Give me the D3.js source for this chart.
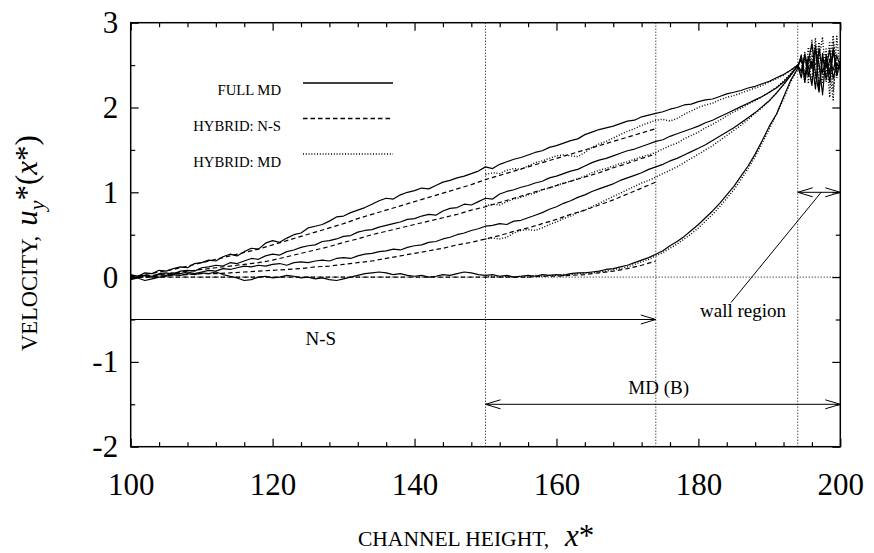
<!DOCTYPE html>
<html>
<head>
<meta charset="utf-8">
<script src="https://cdn.jsdelivr.net/npm/d3@7"></script>
<style>
  body { margin: 0; background: #fff; }
  svg { display: block; }
  text { font-family: "Liberation Serif", "Times New Roman", serif; fill: #000; }
</style>
</head>
<body>
<svg id="chart" width="874" height="553"></svg>
<script>
// ---- axis ticks -------------------------------------------------------
const xTicks = [100, 120, 140, 160, 180, 200];
const yTicks = [-2, -1, 0, 1, 2, 3];

// ---- velocity profiles --------------------------------------------------
// Full MD runs, sampled at x* = 100, 101, ..., 194
const fullMdA = [
  0.02,0.01,0.05,0.04,0.08,0.07,0.10,0.12,0.11,0.16,
  0.17,0.20,0.19,0.24,0.27,0.25,0.30,0.34,0.33,0.40,
  0.43,0.41,0.46,0.50,0.52,0.58,0.60,0.62,0.66,0.71,
  0.72,0.76,0.79,0.82,0.86,0.90,0.93,0.92,0.97,1.00,
  1.02,1.05,1.04,1.08,1.12,1.14,1.17,1.19,1.22,1.25,
  1.30,1.28,1.33,1.36,1.39,1.41,1.44,1.47,1.49,1.53,
  1.55,1.58,1.61,1.63,1.68,1.71,1.74,1.76,1.78,1.81,
  1.84,1.85,1.89,1.91,1.93,1.95,1.98,2.00,2.03,2.04,
  2.07,2.09,2.10,2.13,2.16,2.18,2.20,2.23,2.25,2.28,
  2.31,2.35,2.39,2.44,2.50
];
const fullMdB = [
  -0.02,0.00,0.02,0.01,0.04,0.05,0.03,0.07,0.08,0.07,
  0.11,0.12,0.14,0.13,0.17,0.16,0.19,0.22,0.21,0.25,
  0.27,0.26,0.30,0.32,0.35,0.37,0.38,0.42,0.43,0.45,
  0.48,0.49,0.53,0.55,0.56,0.59,0.61,0.63,0.65,0.68,
  0.69,0.72,0.74,0.73,0.78,0.81,0.82,0.86,0.85,0.89,
  0.93,0.92,0.98,1.01,1.03,1.06,1.08,1.11,1.13,1.17,
  1.19,1.22,1.25,1.27,1.31,1.35,1.38,1.40,1.43,1.46,
  1.49,1.51,1.54,1.57,1.60,1.62,1.66,1.69,1.72,1.75,
  1.78,1.82,1.85,1.89,1.93,1.97,2.01,2.05,2.09,2.13,
  2.18,2.23,2.30,2.39,2.49
];
const fullMdC = [
  0.03,0.01,0.02,0.00,0.03,0.02,0.05,0.04,0.06,0.04,
  0.06,0.08,0.07,0.10,0.09,0.11,0.13,0.12,0.14,0.13,
  0.15,0.16,0.14,0.17,0.18,0.17,0.19,0.20,0.19,0.22,
  0.23,0.22,0.25,0.27,0.28,0.30,0.31,0.33,0.32,0.35,
  0.37,0.38,0.41,0.42,0.45,0.47,0.50,0.52,0.55,0.57,
  0.60,0.61,0.63,0.62,0.66,0.67,0.70,0.73,0.76,0.80,
  0.83,0.87,0.90,0.94,0.97,1.01,1.04,1.07,1.10,1.14,
  1.17,1.20,1.23,1.27,1.30,1.33,1.37,1.40,1.44,1.48,
  1.52,1.56,1.61,1.66,1.71,1.76,1.82,1.88,1.94,2.01,
  2.08,2.17,2.27,2.38,2.49
];
const fullMdD = [
  -0.03,-0.01,-0.04,-0.02,0.00,0.01,0.03,0.02,0.04,0.03,
  0.05,0.04,0.06,0.03,0.01,-0.01,-0.04,-0.03,0.00,0.01,
  -0.01,0.00,0.02,0.01,-0.01,0.00,-0.02,-0.01,-0.03,-0.04,
  -0.02,0.00,0.02,0.04,0.05,0.06,0.05,0.03,0.04,0.02,
  0.01,0.02,0.00,0.01,0.03,0.02,0.04,0.06,0.05,0.03,
  0.02,0.03,0.01,0.02,0.00,0.01,0.02,0.01,0.03,0.02,
  0.03,0.02,0.04,0.05,0.05,0.06,0.07,0.09,0.10,0.12,
  0.14,0.17,0.20,0.23,0.27,0.31,0.37,0.42,0.48,0.55,
  0.62,0.70,0.78,0.87,0.97,1.07,1.19,1.31,1.45,1.61,
  1.78,1.92,2.12,2.32,2.46
];

// Wall region samples at x* = 194.5, 195, ..., 200
const wallX = [194.5,195,195.5,196,196.5,197,197.5,198,198.5,199,199.5,200];
const fullMdAWall = [2.42,2.63,2.38,2.55,2.22,2.70,2.41,2.58,2.30,2.66,2.45,2.52];
const fullMdBWall = [2.58,2.36,2.60,2.47,2.72,2.20,2.64,2.33,2.57,2.44,2.61,2.49];
const fullMdCWall = [2.35,2.61,2.48,2.26,2.68,2.52,2.15,2.62,2.40,2.70,2.38,2.55];
const fullMdDWall = [2.62,2.30,2.55,2.75,2.40,2.18,2.58,2.47,2.68,2.34,2.53,2.45];

// Hybrid continuum (Navier-Stokes) part, x* = 100, 102, ..., 174
const hybridNsA = [
  0.00,0.03,0.06,0.09,0.13,0.17,0.21,0.25,0.29,0.33,
  0.38,0.43,0.48,0.53,0.58,0.63,0.69,0.74,0.79,0.84,
  0.89,0.94,0.99,1.04,1.09,1.15,1.20,1.25,1.30,1.35,
  1.40,1.45,1.50,1.55,1.60,1.65,1.70,1.75
];
const hybridNsB = [
  0.00,0.01,0.03,0.05,0.07,0.09,0.11,0.13,0.15,0.17,
  0.20,0.24,0.28,0.32,0.36,0.41,0.45,0.50,0.54,0.58,
  0.62,0.66,0.70,0.74,0.79,0.83,0.88,0.93,0.98,1.03,
  1.08,1.13,1.18,1.23,1.29,1.34,1.40,1.45
];
const hybridNsC = [
  0.00,0.00,0.01,0.02,0.03,0.04,0.04,0.05,0.06,0.07,
  0.08,0.09,0.10,0.12,0.13,0.15,0.17,0.19,0.22,0.25,
  0.28,0.31,0.34,0.38,0.41,0.45,0.49,0.54,0.58,0.63,
  0.68,0.74,0.79,0.85,0.91,0.98,1.05,1.12
];
const hybridNsD = [
  0.00,0.00,0.00,0.00,0.00,0.00,0.00,0.00,0.00,0.00,
  0.00,0.00,0.00,0.00,0.00,0.00,0.00,0.00,0.00,0.00,
  0.00,0.00,0.00,0.00,0.00,0.00,0.00,0.00,0.00,0.01,
  0.01,0.02,0.03,0.05,0.07,0.10,0.14,0.19
];

// Hybrid particle (MD) part, x* = 150, 151, ..., 194
const hybridMdA = [
  1.21,1.23,1.22,1.26,1.28,1.27,1.31,1.35,1.37,1.40,
  1.43,1.44,1.43,1.42,1.47,1.53,1.57,1.60,1.64,1.68,
  1.72,1.75,1.79,1.82,1.85,1.86,1.84,1.87,1.92,1.96,
  2.00,2.03,2.05,2.09,2.12,2.14,2.17,2.20,2.23,2.26,
  2.30,2.34,2.38,2.44,2.50
];
const hybridMdB = [
  0.84,0.86,0.85,0.89,0.92,0.94,0.97,0.99,1.03,1.05,
  1.08,1.11,1.13,1.16,1.19,1.23,1.26,1.28,1.31,1.34,
  1.36,1.39,1.42,1.44,1.47,1.51,1.55,1.58,1.63,1.67,
  1.71,1.76,1.80,1.85,1.90,1.95,1.99,2.04,2.08,2.13,
  2.18,2.24,2.31,2.40,2.50
];
const hybridMdC = [
  0.45,0.46,0.45,0.47,0.52,0.55,0.56,0.55,0.58,0.62,
  0.65,0.69,0.72,0.76,0.79,0.83,0.87,0.91,0.95,0.99,
  1.03,1.07,1.11,1.14,1.18,1.22,1.26,1.30,1.35,1.40,
  1.45,1.50,1.55,1.61,1.67,1.73,1.79,1.86,1.93,2.00,
  2.08,2.17,2.27,2.38,2.49
];
const hybridMdD = [
  0.00,0.01,0.00,0.01,0.00,0.01,0.00,0.02,0.01,0.02,
  0.02,0.03,0.03,0.04,0.05,0.05,0.06,0.07,0.09,0.10,
  0.12,0.15,0.18,0.21,0.25,0.29,0.34,0.39,0.45,0.51,
  0.58,0.66,0.74,0.83,0.93,1.03,1.15,1.28,1.42,1.58,
  1.75,1.92,2.10,2.30,2.46
];
const hybridMdAWall = [2.55,2.30,2.71,2.45,2.82,2.25,2.60,2.40,2.78,2.20,2.62,2.48];
const hybridMdBWall = [2.38,2.65,2.28,2.80,2.35,2.58,2.83,2.30,2.52,2.85,2.35,2.55];
const hybridMdCWall = [2.60,2.42,2.52,2.33,2.74,2.46,2.28,2.69,2.12,2.78,2.40,2.50];
const hybridMdDWall = [2.45,2.57,2.36,2.62,2.50,2.77,2.36,2.55,2.44,2.09,2.84,2.42];

// ---- layout -------------------------------------------------------------
const svg = d3.select("#chart");
const plotL = 130.7, plotR = 840.3, plotT = 22.7, plotB = 446.7;
const x = d3.scaleLinear().domain([100, 200]).range([plotL, plotR]);
const y = d3.scaleLinear().domain([-2, 3]).range([plotB, plotT]);

const toPoints = (x0, step, vals) => vals.map((v, i) => [x0 + i * step, v]);
const withWall = (pts, wall) => pts.concat(wall.map((v, i) => [wallX[i], v]));

const line = d3.line().x(d => x(d[0])).y(d => y(d[1]));

const dotted = "1,1.8";
const dashed = "4.5,3";

svg.append("defs").append("clipPath").attr("id", "plotClip")
  .append("rect").attr("x", plotL).attr("y", plotT)
  .attr("width", plotR - plotL).attr("height", plotB - plotT);

// ---- reference lines -----------------------------------------------------
const guides = svg.append("g").attr("stroke", "#000").attr("stroke-width", 1)
  .attr("stroke-dasharray", "1,2").attr("fill", "none");
[150, 174, 194].forEach(v => {
  guides.append("line").attr("x1", x(v)).attr("x2", x(v)).attr("y1", plotT).attr("y2", plotB);
});
guides.append("line").attr("x1", plotL).attr("x2", plotR).attr("y1", y(0)).attr("y2", y(0));

// ---- curves ----------------------------------------------------------------
const curves = svg.append("g").attr("clip-path", "url(#plotClip)")
  .attr("fill", "none").attr("stroke", "#000").attr("stroke-linejoin", "round");

const fullMd = [
  withWall(toPoints(100, 1, fullMdA), fullMdAWall),
  withWall(toPoints(100, 1, fullMdB), fullMdBWall),
  withWall(toPoints(100, 1, fullMdC), fullMdCWall),
  withWall(toPoints(100, 1, fullMdD), fullMdDWall)
];
const hybridNs = [hybridNsA, hybridNsB, hybridNsC, hybridNsD].map(v => toPoints(100, 2, v));
const hybridMd = [
  withWall(toPoints(150, 1, hybridMdA), hybridMdAWall),
  withWall(toPoints(150, 1, hybridMdB), hybridMdBWall),
  withWall(toPoints(150, 1, hybridMdC), hybridMdCWall),
  withWall(toPoints(150, 1, hybridMdD), hybridMdDWall)
];

fullMd.forEach(p => curves.append("path").attr("d", line(p)).attr("stroke-width", 1.2));
hybridNs.forEach(p => curves.append("path").attr("d", line(p)).attr("stroke-width", 1.2)
  .attr("stroke-dasharray", dashed));
hybridMd.forEach(p => curves.append("path").attr("d", line(p)).attr("stroke-width", 1.4)
  .attr("stroke-dasharray", dotted));

// ---- axes ------------------------------------------------------------------
const xMinor = d3.range(100, 201, 4).filter(v => v % 20 !== 0);
const yMinor = d3.range(-2, 3.01, 0.5).filter(v => v % 1 !== 0);

function styleAxis(g) {
  g.select(".domain").remove();
  g.selectAll("line").attr("stroke", "#000").attr("stroke-width", 1.2);
  g.selectAll("text").attr("font-family", '"Liberation Serif", serif').attr("font-size", 31).attr("fill", "#000");
}

svg.append("g").attr("transform", `translate(0,${plotB})`)
  .call(d3.axisBottom(x).tickValues(xTicks).tickSize(-8).tickPadding(26).tickFormat(d => String(d)))
  .call(styleAxis);
svg.append("g").attr("transform", `translate(0,${plotB})`)
  .call(d3.axisBottom(x).tickValues(xMinor).tickSize(-4.5).tickFormat(""))
  .call(styleAxis);
svg.append("g").attr("transform", `translate(0,${plotT})`)
  .call(d3.axisTop(x).tickValues(xTicks).tickSize(-8).tickFormat(""))
  .call(styleAxis);
svg.append("g").attr("transform", `translate(0,${plotT})`)
  .call(d3.axisTop(x).tickValues(xMinor).tickSize(-4.5).tickFormat(""))
  .call(styleAxis);

svg.append("g").attr("transform", `translate(${plotL},0)`)
  .call(d3.axisLeft(y).tickValues(yTicks).tickSize(-8).tickPadding(12.5).tickFormat(d => String(d)))
  .call(styleAxis);
svg.append("g").attr("transform", `translate(${plotL},0)`)
  .call(d3.axisLeft(y).tickValues(yMinor).tickSize(-4.5).tickFormat(""))
  .call(styleAxis);
svg.append("g").attr("transform", `translate(${plotR},0)`)
  .call(d3.axisRight(y).tickValues(yTicks).tickSize(-8).tickFormat(""))
  .call(styleAxis);
svg.append("g").attr("transform", `translate(${plotR},0)`)
  .call(d3.axisRight(y).tickValues(yMinor).tickSize(-4.5).tickFormat(""))
  .call(styleAxis);

svg.append("rect").attr("x", plotL).attr("y", plotT)
  .attr("width", plotR - plotL).attr("height", plotB - plotT)
  .attr("fill", "none").attr("stroke", "#000").attr("stroke-width", 1.5);

// ---- annotation arrows -----------------------------------------------------
const ann = svg.append("g").attr("stroke", "#000").attr("stroke-width", 1).attr("fill", "none");
function head(px, py, dir) {
  const L = 15, W = 4.5;
  ann.append("path").attr("d",
    `M${px - dir * L},${py - W}L${px},${py}L${px - dir * L},${py + W}`);
}
function arrow(x1, x2, yv, both) {
  const py = y(yv);
  ann.append("line").attr("x1", x(x1)).attr("x2", x(x2)).attr("y1", py).attr("y2", py);
  head(x(x2), py, 1);
  if (both) head(x(x1), py, -1);
}
arrow(100, 174, -0.5, false);
arrow(150, 200, -1.5, true);
arrow(194, 200, 1, true);
ann.append("line").attr("x1", x(184.6)).attr("y1", y(-0.3))
  .attr("x2", x(197.3)).attr("y2", y(1));

const notes = svg.append("g").attr("font-size", 19);
notes.append("text").attr("x", x(126.8)).attr("y", y(-0.8)).attr("text-anchor", "middle").text("N-S");
notes.append("text").attr("x", x(174.4)).attr("y", y(-1.375)).attr("text-anchor", "middle").text("MD (B)");
notes.append("text").attr("x", x(186.3)).attr("y", y(-0.47)).attr("text-anchor", "middle").text("wall region");

// ---- legend ----------------------------------------------------------------
const legendItems = ["FULL MD", "HYBRID: N-S", "HYBRID: MD"];
const legendDash = [null, dashed, dotted];
const legendLineY = [83, 118.5, 154];
const legendTextY = [95, 131, 167];
const lg = svg.append("g");
legendItems.forEach((name, i) => {
  lg.append("text").attr("x", 281).attr("y", legendTextY[i]).attr("text-anchor", "end")
    .attr("font-size", 14.7).text(name);
  lg.append("line").attr("x1", 303).attr("x2", 393)
    .attr("y1", legendLineY[i]).attr("y2", legendLineY[i])
    .attr("stroke", "#000").attr("stroke-width", 1.3)
    .attr("stroke-dasharray", legendDash[i]);
});

// ---- axis titles -------------------------------------------------------------
const xt = svg.append("text").attr("x", 358).attr("y", 546);
xt.append("tspan").attr("font-size", 21.5).text("CHANNEL HEIGHT,");
xt.append("tspan").attr("dx", 16).attr("font-size", 31).attr("font-style", "italic").text("x");
xt.append("tspan").attr("font-size", 31).text("*");

const yt = svg.append("text").attr("transform", "translate(37,351) rotate(-90)");
yt.append("tspan").attr("font-size", 22.5).text("VELOCITY,");
yt.append("tspan").attr("dx", 10).attr("font-size", 31).attr("font-style", "italic").text("u");
yt.append("tspan").attr("font-size", 22).attr("font-style", "italic").attr("dy", 7).text("y");
yt.append("tspan").attr("font-size", 31).attr("dy", -7).text("*(");
yt.append("tspan").attr("font-size", 31).attr("font-style", "italic").text("x");
yt.append("tspan").attr("font-size", 31).text("*)");
</script>
</body>
</html>
